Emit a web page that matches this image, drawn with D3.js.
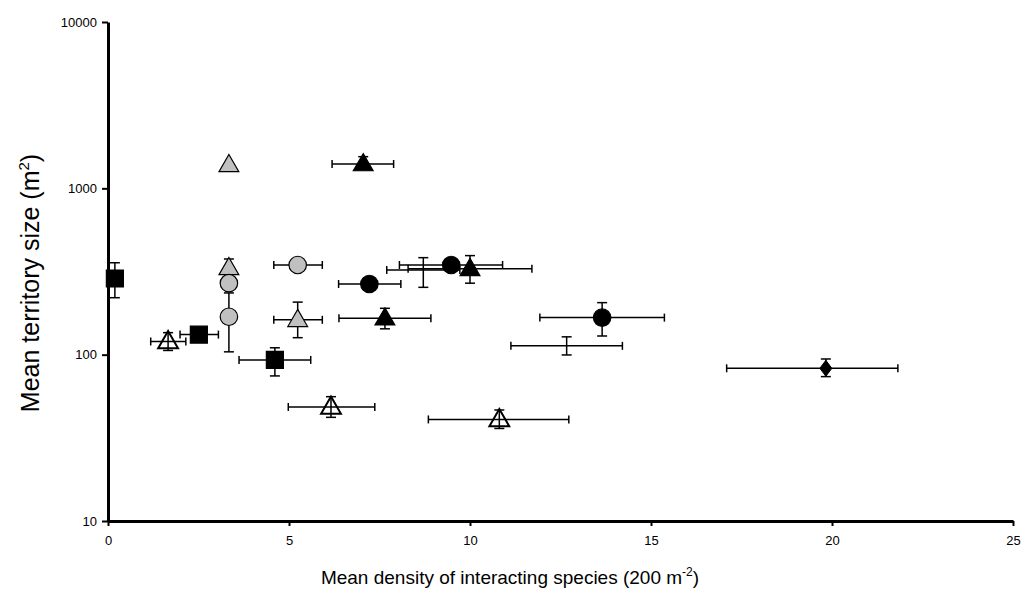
<!DOCTYPE html>
<html>
<head>
<meta charset="utf-8">
<script src="https://cdn.jsdelivr.net/npm/d3@7"></script>
<style>
  body { margin: 0; background: #fff; }
  svg { font-family: "Liberation Sans", Arial, sans-serif; }
</style>
</head>
<body>
<svg id="chart" width="1023" height="598"></svg>
<script>
// density (x), territory size (y) and their error bar ends, null = no bar
const density   = [0.19, 2.51, 4.61, 3.34, 3.34, 3.34, 3.34, 5.24, 5.24, 1.66, 6.16, 10.81, 7.05, 7.22, 9.48, 8.71, 10.0, 7.65, 13.65, 12.67, 19.83];
const territory = [287, 132, 93, 1383, 332, 269, 169, 346, 162, 120, 48.5, 40.8, 1400, 266, 346, 323, 328, 165.5, 167, 113, 82.8];
const densLo    = [null, 1.99, 3.62, null, null, null, null, 4.58, 4.58, 1.18, 4.98, 8.85, 6.19, 6.37, 8.05, 7.70, 8.29, 6.38, 11.93, 11.13, 17.09];
const densHi    = [null, 3.05, 5.60, null, null, null, null, 5.92, 5.92, 2.15, 7.37, 12.73, 7.89, 8.09, 10.90, 9.72, 11.71, 8.92, 15.37, 14.21, 21.82];
const terrLo    = [220, null, 74.5, null, null, null, 104, null, 126.5, 106, 42, 36, 1300, null, null, 254, 269, 143, 129.5, 99.6, 73.8];
const terrHi    = [357, null, 110, null, 376, null, 235, null, 207, 135.6, 55.9, 46.5, 1550, null, null, 383, 394, 190, 205.5, 128, 94.2];
const shape     = ["square", "square", "square", "triangle", "triangle", "circle", "circle", "circle", "triangle", "triangle", "triangle", "triangle", "triangle", "circle", "circle", "none", "triangle", "triangle", "circle", "none", "diamond"];
const fillCol   = ["#000", "#000", "#000", "#c0c0c0", "#c0c0c0", "#c0c0c0", "#c0c0c0", "#c0c0c0", "#c0c0c0", "none", "none", "none", "#000", "#000", "#000", "none", "#000", "#000", "#000", "none", "#000"];

const xTicks = [0, 5, 10, 15, 20, 25];
const yTicks = [10, 100, 1000, 10000];

const svg = d3.select("#chart");
const x = d3.scaleLinear().domain([0, 25]).range([108, 1013]);
const y = d3.scaleLog().domain([10, 10000]).range([521, 22]);

const points = density.map((d, i) => ({
  x: d, y: territory[i], xl: densLo[i], xh: densHi[i], yl: terrLo[i], yh: terrHi[i],
  shape: shape[i], fill: fillCol[i]
}));

// axes
const yAxis = svg.append("g")
  .attr("transform", "translate(108,0)")
  .call(d3.axisLeft(y).tickValues(yTicks).tickFormat(d3.format("d")).tickSize(6).tickSizeOuter(0));
const xAxis = svg.append("g")
  .attr("transform", "translate(0,521)")
  .call(d3.axisBottom(x).tickValues(xTicks).tickSize(5).tickSizeOuter(0));

[yAxis, xAxis].forEach(a => {
  a.select(".domain").attr("stroke", "#000").attr("stroke-width", 3);
  a.selectAll(".tick line").attr("stroke", "#000").attr("stroke-width", 2);
  a.selectAll(".tick text").attr("fill", "#000").style("font-size", "13px")
    .style("font-family", "'Liberation Sans', Arial, sans-serif");
});
yAxis.selectAll(".tick text").attr("x", -11);
xAxis.selectAll(".tick text").attr("y", 15);

// error bars
const bars = svg.append("g").attr("stroke", "#000").attr("stroke-width", 1.5).attr("fill", "none");
points.forEach(p => {
  if (p.xl != null) {
    bars.append("line").attr("x1", x(p.xl)).attr("x2", x(p.xh)).attr("y1", y(p.y)).attr("y2", y(p.y));
    [p.xl, p.xh].forEach(v => bars.append("line")
      .attr("x1", x(v)).attr("x2", x(v)).attr("y1", y(p.y) - 4).attr("y2", y(p.y) + 4));
  }
  if (p.yl != null || p.yh != null) {
    const lo = p.yl != null ? p.yl : p.y, hi = p.yh != null ? p.yh : p.y;
    bars.append("line").attr("x1", x(p.x)).attr("x2", x(p.x)).attr("y1", y(lo)).attr("y2", y(hi));
    [p.yl, p.yh].filter(v => v != null).forEach(v => bars.append("line")
      .attr("x1", x(p.x) - 5).attr("x2", x(p.x) + 5).attr("y1", y(v)).attr("y2", y(v)));
  }
});

// markers
const symbolType = { square: d3.symbolSquare, circle: d3.symbolCircle, triangle: d3.symbolTriangle };
const marks = svg.append("g");
points.forEach(p => {
  const cx = x(p.x), cy = y(p.y);
  if (p.shape === "none") return;
  if (p.shape === "diamond") {
    marks.append("path")
      .attr("d", `M${cx},${cy - 8}L${cx + 6},${cy}L${cx},${cy + 8}L${cx - 6},${cy}Z`)
      .attr("fill", p.fill).attr("stroke", "#000").attr("stroke-width", 1);
    return;
  }
  const size = p.shape === "square" ? 290 : p.shape === "circle" ? 240 : 170;
  marks.append("path")
    .attr("d", d3.symbol().type(symbolType[p.shape]).size(size)())
    .attr("transform", `translate(${cx},${p.shape === "triangle" ? cy + 1 : cy})`)
    .attr("fill", p.fill)
    .attr("stroke", "#000")
    .attr("stroke-width", p.fill === "none" ? 2 : 1.2);
});

// axis titles
const xt = svg.append("text")
  .attr("x", 510).attr("y", 584)
  .attr("text-anchor", "middle")
  .style("font-size", "19px");
xt.append("tspan").text("Mean density of interacting species (200 m");
xt.append("tspan").attr("dy", -8).style("font-size", "12px").text("-2");
xt.append("tspan").attr("dy", 8).text(")");

const yt = svg.append("text")
  .attr("transform", "translate(39,283) rotate(-90)")
  .attr("text-anchor", "middle")
  .style("font-size", "25px");
yt.append("tspan").text("Mean territory size (m");
yt.append("tspan").attr("dy", -10).style("font-size", "15px").text("2");
yt.append("tspan").attr("dy", 10).text(")");
</script>
</body>
</html>
